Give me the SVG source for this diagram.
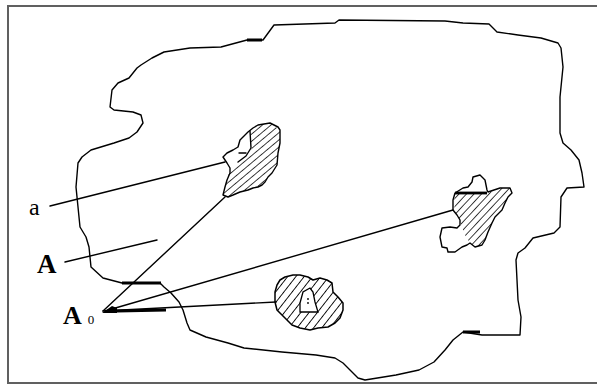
<svg xmlns="http://www.w3.org/2000/svg" width="597" height="385" viewBox="0 0 597 385">
<style>
.ln{fill:none;stroke:#000;stroke-width:1.4;stroke-linejoin:round;stroke-linecap:round}
.thick{fill:none;stroke:#000;stroke-width:2.8;stroke-linecap:butt}
.lbl{font-family:"Liberation Serif","DejaVu Serif",serif;fill:#000}
</style>
<defs>
<pattern id="h1" width="5.5" height="5.5" patternUnits="userSpaceOnUse" patternTransform="rotate(50)"><line x1="0" y1="0" x2="0" y2="5.5" stroke="#000" stroke-width="1.5"/></pattern>
<pattern id="h2" width="5.5" height="5.5" patternUnits="userSpaceOnUse" patternTransform="rotate(43)"><line x1="0" y1="0" x2="0" y2="5.5" stroke="#000" stroke-width="1.5"/></pattern>
<pattern id="h3" width="6.5" height="6.5" patternUnits="userSpaceOnUse" patternTransform="rotate(38)"><line x1="0" y1="0" x2="0" y2="6.5" stroke="#000" stroke-width="1.8"/></pattern>
</defs>
<rect width="597" height="385" fill="#fff"/>
<rect x="8" y="6" width="596" height="377" fill="none" stroke="#606060" stroke-width="2"/>

<g id="region">
<path class="ln" d="M274,25 L335,23 L339,20 L445,21 L463,23 L489,24 L497,32 L518,35 L541,38 L558,43 L561,48 L563,67 L560,97 L560,133 L563,143 L571,150 L579,160 L582,173 L584,187 L567,188 L561,197 L560,227 L554,233 L533,238 L525,248 L518,253 L516,260 L518,300 L521,317 L520,335 L482,335 L463,332 L453,340 L445,350 L434,362 L419,370 L396,375 L365,380 L358,378 L350,370 L343,363 L335,358 L316,355 L282,352 L244,348 L228,343 L206,337 L190,330 L187,323 L183,310 L179,302 L171,293 L164,287 L160,283 L122,283 L103,278 L91,267 L89,247 L86,237 L80,227 L78,207 L76,187 L78,163 L82,157 L91,150 L114,143 L129,138 L137,132 L143,123 L141,115 L133,112 L114,110 L110,107 L112,90 L118,83 L129,78 L137,68 L141,65 L152,58 L164,52 L190,48 L221,47 L247,40 L263,40 Z"/>
<path class="thick" d="M122,283 L161,283 M247,40 L262,40 M463,332 L480,332"/>
</g>

<g id="patch1">
<path fill="url(#h1)" d="M250,130 L258,125 L270,123 L280,130 L280,143 L278,153 L277,165 L268,177 L262,185 L253,188 L240,192 L228,197 L223,195 L227,180 L230,168 L237,165 L247,157 L252,148 L250,137 Z"/>
<path class="ln" d="M258,125 L270,123 L278,127 L280,130 L280,143 L278,153 L277,165 L272,173 L268,177 L265,182 L262,185 L258,187 L253,188 L248,190 L240,192 L233,195 L228,197 L223,195 L225,187 L227,180 L230,173 L230,168 L227,163 L223,157 L227,153 L233,150 L238,147 L240,140 L243,137 L248,132 L253,128 Z"/>
<path class="ln" d="M250,131 L251,148 L246,156 L238,162"/>
<path class="ln" d="M239,153 L246,153"/>
</g>

<g id="patch2">
<path fill="url(#h2)" d="M455,194 L488,193 L500,188 L510,188 L512,193 L508,197 L505,203 L502,210 L495,217 L492,223 L488,232 L485,240 L482,245 L475,247 L470,243 L465,235 L462,227 L460,220 L455,212 L454,202 Z"/>
<path class="ln" d="M473,177 L480,175 L485,180 L487,190 L488,192 L500,188 L510,188 L512,193 L508,197 L505,203 L502,210 L495,217 L492,223 L488,232 L485,240 L482,245 L475,247 L470,243 L467,245 L462,247 L455,252 L448,252 L447,248 L442,247 L440,237 L442,228 L450,227 L457,228 L460,225 L460,220 L457,215 L453,210 L453,200 L455,193 L463,188 L468,187 L472,182 Z"/>
<path class="thick" d="M455,193 L487,193"/>
</g>

<g id="patch3">
<path style="fill:url(#h3);stroke:#000;stroke-width:1.5;stroke-linejoin:round" d="M280,280 L285,277 L293,275 L300,275 L308,277 L313,280 L320,278 L327,280 L332,283 L333,292 L338,297 L343,303 L343,310 L340,318 L335,323 L328,327 L318,328 L310,330 L300,328 L292,325 L287,320 L282,315 L277,310 L275,302 L275,292 L277,285 Z"/>
<path fill="#fff" stroke="#000" stroke-width="1.3" d="M300,303 L303,292 L310,288 L313,292 L315,302 L318,312 L300,312 Z"/>
<circle cx="308" cy="299" r="0.9" fill="#000"/>
<circle cx="308" cy="303" r="0.9" fill="#000"/>
</g>

<g id="connectors">
<path class="ln" d="M50,206 L225,162"/>
<path class="ln" d="M65,262 L157,240"/>
<path class="ln" d="M103,311 L225,197"/>
<path class="ln" d="M105,311 L453,210"/>
<path class="ln" d="M103,311 L276,302"/>
<path fill="#000" d="M102,313 L112,306 L117,308 L117,313 Z"/>
<path class="thick" d="M117,311 L166,310"/>
</g>

<g id="labels">
<text class="lbl" x="29" y="215" font-size="24">a</text>
<text class="lbl" x="37" y="273" font-size="27" font-weight="bold">A</text>
<text class="lbl" x="63" y="324" font-size="26" font-weight="bold">A<tspan dx="6" font-size="13" font-weight="normal">0</tspan></text>
</g>
</svg>
